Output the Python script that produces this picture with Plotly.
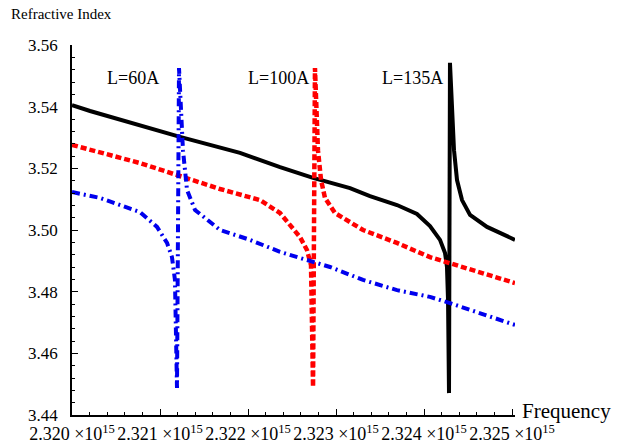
import plotly.graph_objects as go

# frequency in units of 1e15 Hz
black_f = [2.320000, 2.320205, 2.321227, 2.321909, 2.322364, 2.322739, 2.323159, 2.323386, 2.323693,
           2.323920, 2.324068, 2.324182, 2.324239, 2.324261, 2.324273, 2.324284,
           2.324295, 2.324318, 2.324341, 2.324375, 2.324432, 2.324523, 2.324716, 2.325034]
black_n = [3.5405, 3.5386, 3.5302, 3.5250, 3.5204, 3.5169, 3.5136, 3.5110, 3.5081,
           3.5052, 3.5013, 3.4968, 3.4925, 3.4880, 3.4773, 3.4471,
           3.5542, 3.5422, 3.5259, 3.5162, 3.5097, 3.5049, 3.5010, 3.4968]

red_f = [2.320000, 2.320773, 2.321682, 2.322136, 2.322364, 2.322591, 2.322670, 2.322716, 2.322739,
         2.322761, 2.322795, 2.322830, 2.322875, 2.322989, 2.323307, 2.323693, 2.324068, 2.324295,
         2.325034]
red_n = [3.5276, 3.5217, 3.5133, 3.5097, 3.5055, 3.4977, 3.4935, 3.4886, 3.4491,
         3.5525, 3.5259, 3.5162, 3.5104, 3.5055, 3.5000, 3.4958, 3.4912, 3.4893,
         3.4828]

blue_f = [2.320000, 2.320318, 2.320773, 2.320966, 2.321080, 2.321136, 2.321170, 2.321193,
          2.321216, 2.321261, 2.321307, 2.321398, 2.321682, 2.322023, 2.322364, 2.322932,
          2.323307, 2.323693, 2.324068, 2.324295, 2.325034]
blue_n = [3.5123, 3.5104, 3.5058, 3.5010, 3.4958, 3.4912, 3.4838, 3.4488,
          3.5525, 3.5259, 3.5130, 3.5065, 3.5000, 3.4968, 3.4929, 3.4880,
          3.4838, 3.4805, 3.4783, 3.4763, 3.4692]

x_ticks = [2.320, 2.321, 2.322, 2.323, 2.324, 2.325]
x_labels = ["2.320 ×10<sup>15</sup>", "2.321 ×10<sup>15</sup>", "2.322 ×10<sup>15</sup>",
            "2.323 ×10<sup>15</sup>", "2.324 ×10<sup>15</sup>", "2.325 ×10<sup>15</sup>"]
y_ticks = [3.44, 3.46, 3.48, 3.50, 3.52, 3.54, 3.56]
y_labels = ["3.44", "3.46", "3.48", "3.50", "3.52", "3.54", "3.56"]

labels = ["L=60A", "L=100A", "L=135A"]
label_f = [2.320693, 2.322341, 2.323864]
label_n = [3.5493, 3.5493, 3.5493]

SERIF = "Liberation Serif, Times New Roman, serif"

fig = go.Figure()
fig.add_trace(go.Scatter(x=black_f, y=black_n, mode="lines",
                         line=dict(color="black", width=4), showlegend=False))
fig.add_trace(go.Scatter(x=red_f, y=red_n, mode="lines",
                         line=dict(color="#ff0000", width=4.5, dash="6px,3px"), showlegend=False))
fig.add_trace(go.Scatter(x=blue_f, y=blue_n, mode="lines",
                         line=dict(color="#0000ee", width=4, dash="8px,4px,2px,4px"), showlegend=False))

for t, fx, ny in zip(labels, label_f, label_n):
    fig.add_annotation(x=fx, y=ny, text=t, showarrow=False,
                       font=dict(family=SERIF, size=18, color="black"))

fig.add_annotation(xref="paper", yref="paper", x=-0.142, y=1.083, xanchor="left", yanchor="middle",
                   text="Refractive Index", showarrow=False,
                   font=dict(family=SERIF, size=15, color="black"))
fig.add_annotation(xref="paper", yref="paper", x=1.011, y=0.012, xanchor="left", yanchor="middle",
                   text="Frequency", showarrow=False,
                   font=dict(family=SERIF, size=21, color="black"))

fig.update_layout(
    width=624, height=447,
    margin=dict(l=72, r=109, t=45, b=32),
    paper_bgcolor="white", plot_bgcolor="white",
    xaxis=dict(range=[2.320, 2.325034], showgrid=False, zeroline=False, automargin=False,
               showline=True, linecolor="black", linewidth=1.5,
               ticks="inside", ticklen=6, tickwidth=1, tickcolor="black",
               tickvals=x_ticks, ticktext=x_labels, ticklabelstandoff=2,
               tickfont=dict(family=SERIF, size=18, color="black"),
               minor=dict(ticks="inside", ticklen=3, tickcolor="black", dtick=0.0002)),
    yaxis=dict(range=[3.44, 3.56], showgrid=False, zeroline=False, automargin=False,
               showline=True, linecolor="black", linewidth=1.5,
               ticks="inside", ticklen=6, tickwidth=1, tickcolor="black",
               tickvals=y_ticks, ticktext=y_labels, ticklabelstandoff=9,
               tickfont=dict(family=SERIF, size=17, color="black"),
               minor=dict(ticks="inside", ticklen=3, tickcolor="black", dtick=0.004)),
)

fig.write_html("out.html")
